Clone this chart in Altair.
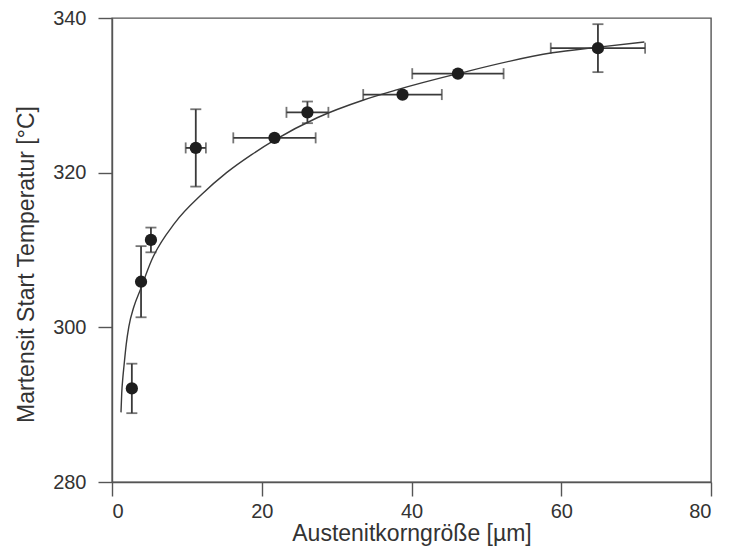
import altair as alt
import pandas as pd

# measured data points
x_vals = [2.65, 3.88, 5.2, 11.19, 21.7, 26.1, 38.8, 46.2, 64.9]
y_vals = [292.1, 305.9, 311.3, 323.2, 324.5, 327.8, 330.1, 332.8, 336.1]
x_err = [0.0, 0.0, 0.0, 1.35, 5.5, 2.8, 5.25, 6.1, 6.3]
y_err = [3.2, 4.6, 1.6, 5.0, 0.0, 1.4, 0.0, 0.0, 3.1]

# fitted curve
curve_x = [1.2, 1.3, 1.45, 1.6, 1.9, 2.25, 2.9, 3.8, 5.3, 8.4, 12.0, 15.3, 18.6, 21.7, 27.4, 33.6, 38.0, 46.2, 58.8, 64.7, 71.1]
curve_y = [289.0, 291.5, 293.5, 295.0, 297.8, 300.1, 302.6, 304.9, 308.7, 313.5, 317.2, 320.0, 322.3, 324.2, 327.1, 329.4, 330.7, 332.8, 335.5, 336.2, 336.9]

pts = pd.DataFrame({"x": x_vals, "y": y_vals, "xe": x_err, "ye": y_err})
pts["xlo"] = pts.x - pts.xe
pts["xhi"] = pts.x + pts.xe
pts["ylo"] = pts.y - pts.ye
pts["yhi"] = pts.y + pts.ye
curve = pd.DataFrame({"x": curve_x, "y": curve_y})

FONT = "Liberation Sans"
LC = "#3a3a3a"
W, H = 599, 464

xs = alt.Scale(domain=[0, 80], nice=False)
ys = alt.Scale(domain=[280, 340], nice=False)
xax = alt.Axis(values=[0, 20, 40, 60, 80], title="Austenitkorngröße [µm]", grid=False,
               titleX=W / 2, titleY=58, titleAlign="center", titleBaseline="alphabetic",
               labelPadding=5)
yax = alt.Axis(values=[280, 300, 320, 340], title="Martensit Start Temperatur [°C]", grid=False,
               titleX=-79, titleY=246, titleAlign="center", titleBaseline="alphabetic",
               titleAngle=270, labelPadding=12)

base_x = alt.X("x:Q", scale=xs, axis=xax)
base_y = alt.Y("y:Q", scale=ys, axis=yax)

line = alt.Chart(curve).mark_line(color=LC, strokeWidth=1.4, interpolate="monotone").encode(
    x=base_x, y=base_y
)

yerr_df = pts[pts.ye > 0]
xerr_df = pts[pts.xe > 0]

yrule = alt.Chart(yerr_df).mark_rule(color=LC, strokeWidth=1.8).encode(
    x=alt.X("x:Q", scale=xs), y=alt.Y("ylo:Q", scale=ys), y2="yhi:Q"
)
ycap_lo = alt.Chart(yerr_df).mark_tick(color=LC, orient="horizontal", size=11, thickness=1.8).encode(
    x=alt.X("x:Q", scale=xs), y=alt.Y("ylo:Q", scale=ys)
)
ycap_hi = alt.Chart(yerr_df).mark_tick(color=LC, orient="horizontal", size=11, thickness=1.8).encode(
    x=alt.X("x:Q", scale=xs), y=alt.Y("yhi:Q", scale=ys)
)
xrule = alt.Chart(xerr_df).mark_rule(color=LC, strokeWidth=1.8).encode(
    y=alt.Y("y:Q", scale=ys), x=alt.X("xlo:Q", scale=xs), x2="xhi:Q"
)
xcap_lo = alt.Chart(xerr_df).mark_tick(color=LC, orient="vertical", size=11, thickness=1.8).encode(
    y=alt.Y("y:Q", scale=ys), x=alt.X("xlo:Q", scale=xs)
)
xcap_hi = alt.Chart(xerr_df).mark_tick(color=LC, orient="vertical", size=11, thickness=1.8).encode(
    y=alt.Y("y:Q", scale=ys), x=alt.X("xhi:Q", scale=xs)
)

points = alt.Chart(pts).mark_circle(color="#1e1e1e", opacity=1, size=150).encode(
    x=alt.X("x:Q", scale=xs), y=alt.Y("y:Q", scale=ys)
)

chart = alt.layer(line, yrule, ycap_lo, ycap_hi, xrule, xcap_lo, xcap_hi, points).properties(
    width=W,
    height=H,
    autosize=alt.AutoSizeParams(type="none"),
    padding={"left": 104, "top": 10, "right": 11, "bottom": 67},
).configure_view(
    stroke="#555555", strokeWidth=1.4
).configure_axis(
    labelFont=FONT, titleFont=FONT, labelFontSize=20, titleFontSize=23,
    labelColor="#333333", titleColor="#333333", titleFontWeight="normal",
    domainColor="#555555", tickColor="#555555", domainWidth=1.4, tickWidth=1.4,
    tickSize=14,
)

chart.save("out.html", embed_options={"renderer": "svg", "actions": False})
